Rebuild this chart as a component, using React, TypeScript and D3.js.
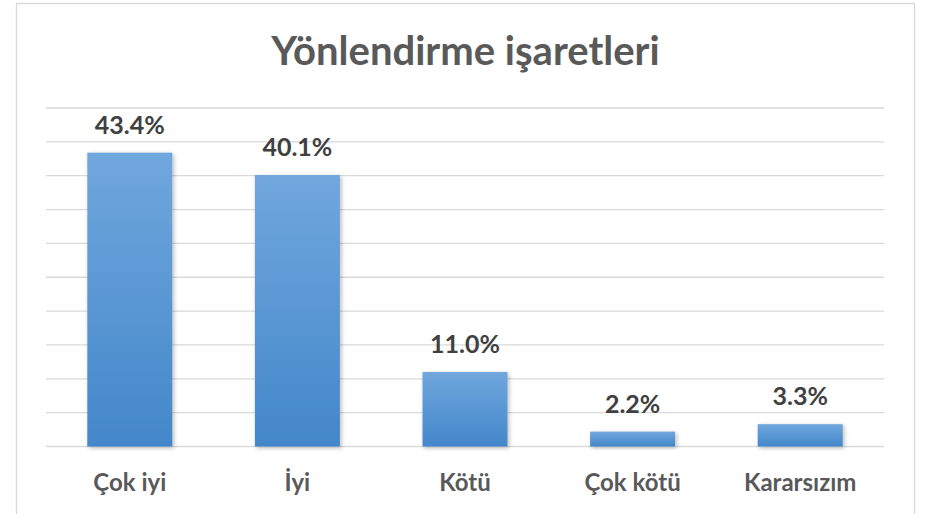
import React, { useEffect } from "react";
import * as d3 from "d3";

const categories = ["Çok iyi", "İyi", "Kötü", "Çok kötü", "Kararsızım"];
const values = [43.4, 40.1, 11.0, 2.2, 3.3];
const yTicks = [0, 5, 10, 15, 20, 25, 30, 35, 40, 45, 50];
const title = "Yönlendirme işaretleri";

const W = 939;
const H = 514;

export default function App() {
  useEffect(() => {
    document.body.style.margin = "0";
  }, []);

  const x = d3
    .scaleBand<string>()
    .domain(categories)
    .range([46, 884])
    .paddingInner(0.493)
    .paddingOuter(0.2465);
  const y = d3.scaleLinear().domain([0, 50]).range([446.5, 108]);

  const font = "Lato, 'Open Sans', sans-serif";

  return (
    <svg width={W} height={H} style={{ display: "block" }}>
      <defs>
        <linearGradient id="barGrad" x1="0" y1="0" x2="0" y2="1">
          <stop offset="0%" stopColor="#70a7dd" />
          <stop offset="100%" stopColor="#4387ca" />
        </linearGradient>
        <filter id="shadow" x="-20%" y="-20%" width="140%" height="140%">
          <feDropShadow dx="1.5" dy="1.5" stdDeviation="2" floodColor="#000" floodOpacity="0.28" />
        </filter>
      </defs>
      <rect x={0} y={0} width={W} height={H} fill="#ffffff" />
      <rect x={16.5} y={3.5} width={898} height={530} fill="#ffffff" stroke="#d9d9d9" strokeWidth={1.3} />
      <text
        x={465.5}
        y={65}
        textAnchor="middle"
        fontFamily={font}
        fontWeight={700}
        fontSize={40}
        fill="#595959"
      >
        {title}
      </text>
      {yTicks.map((t) => (
        <line
          key={t}
          x1={46}
          x2={884}
          y1={y(t)}
          y2={y(t)}
          stroke="#d9d9d9"
          strokeWidth={1.3}
        />
      ))}
      {categories.map((c, i) => (
        <rect
          key={c}
          x={x(c)}
          y={y(values[i])}
          width={x.bandwidth()}
          height={y(0) - y(values[i])}
          fill="url(#barGrad)"
          filter="url(#shadow)"
        />
      ))}
      {categories.map((c, i) => (
        <text
          key={"v" + c}
          x={(x(c) as number) + x.bandwidth() / 2}
          y={y(values[i]) - 19}
          textAnchor="middle"
          fontFamily={font}
          fontWeight={700}
          fontSize={25}
          fill="#404040"
        >
          {values[i].toFixed(1) + "%"}
        </text>
      ))}
      {categories.map((c) => (
        <text
          key={"c" + c}
          x={(x(c) as number) + x.bandwidth() / 2}
          y={491}
          textAnchor="middle"
          fontFamily={font}
          fontWeight={700}
          fontSize={24}
          fill="#595959"
        >
          {c}
        </text>
      ))}
    </svg>
  );
}
